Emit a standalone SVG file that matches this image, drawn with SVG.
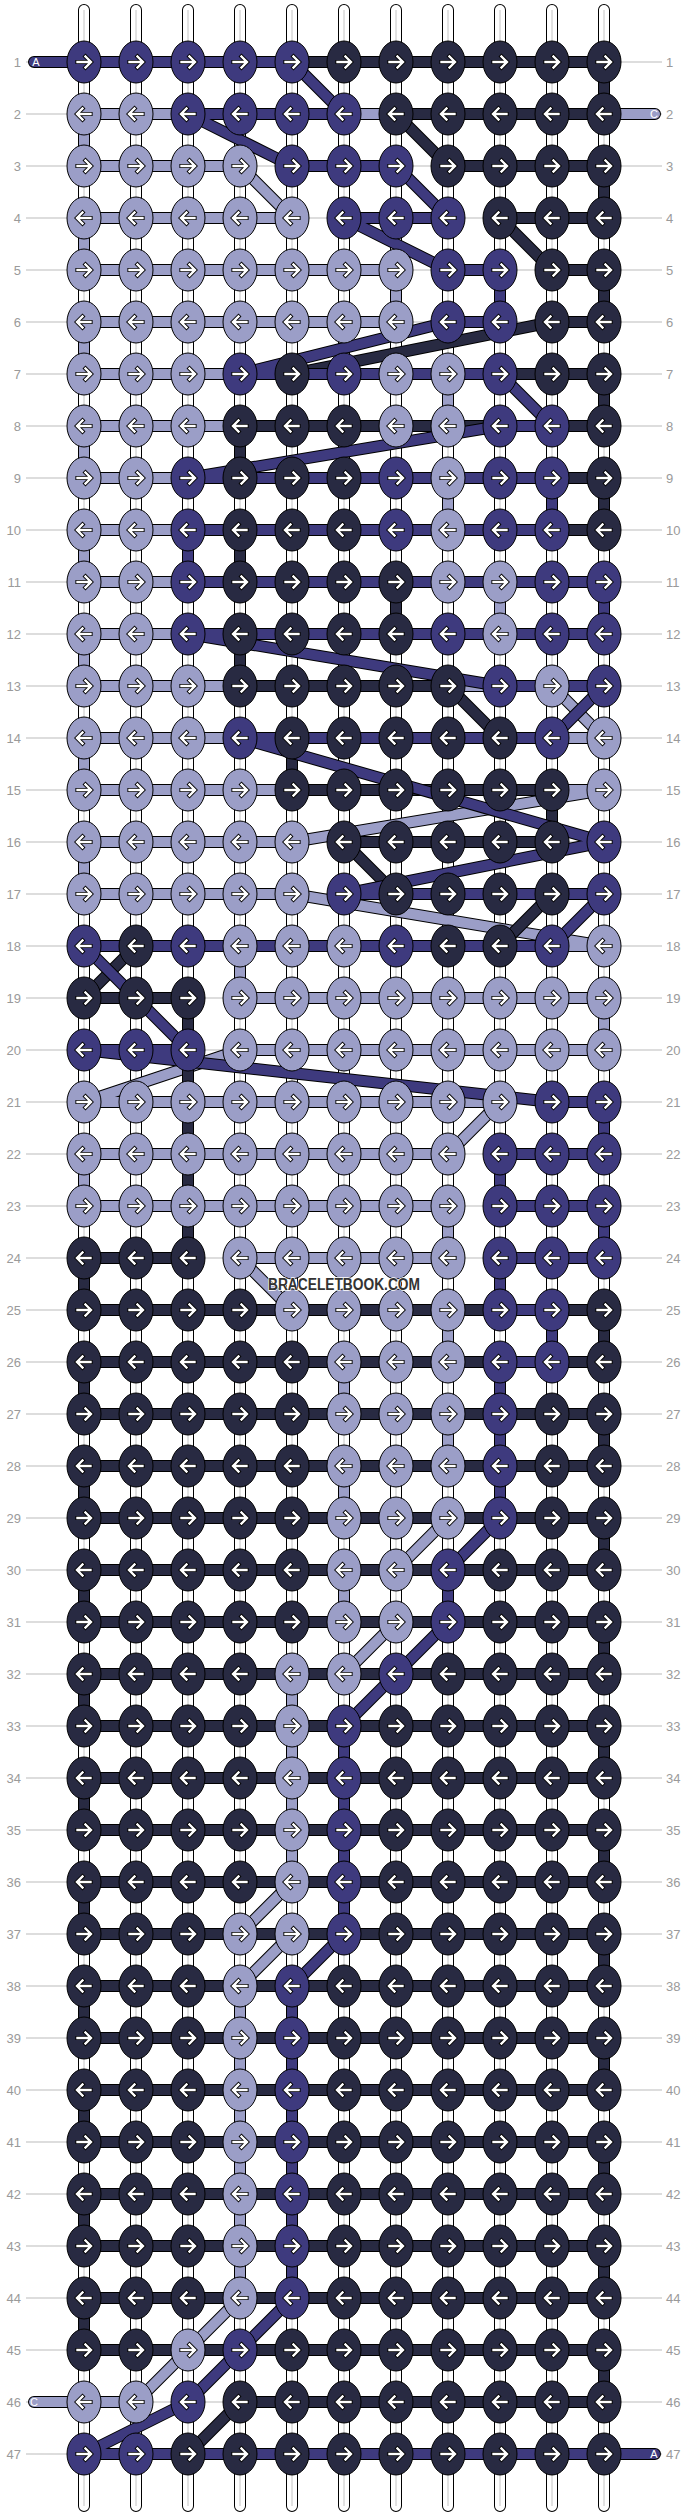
<svg xmlns="http://www.w3.org/2000/svg" width="688" height="2516" viewBox="0 0 688 2516">
<defs>
<style>
.L{fill:#9b9ec7}.M{fill:#3e3a7e}.D{fill:#282a42}
.lb{font-family:"Liberation Sans",Arial,sans-serif;font-size:13px;fill:#9a9a9a}
.tl{font-family:"Liberation Sans",Arial,sans-serif;font-size:11px;fill:#fff;text-anchor:middle}
</style>
<g id="R"><ellipse rx="17" ry="21" stroke="#000" stroke-width="1"/><path d="M-6.5,0H6M1.5-5.5L7,0 1.5,5.5" fill="none" stroke="#000" stroke-width="4.2" stroke-linecap="square"/><path d="M-6.5,0H6M1.5-5.5L7,0 1.5,5.5" fill="none" stroke="#fff" stroke-width="2.4" stroke-linecap="square"/></g>
<g id="W"><ellipse rx="17" ry="21" stroke="#000" stroke-width="1"/><path d="M6.5,0H-6M-1.5-5.5L-7,0-1.5,5.5" fill="none" stroke="#000" stroke-width="4.2" stroke-linecap="square"/><path d="M6.5,0H-6M-1.5-5.5L-7,0-1.5,5.5" fill="none" stroke="#fff" stroke-width="2.4" stroke-linecap="square"/></g>
<path id="tL" d="M655,114H84V166H240L292,218H84V270H396V322H84V374H448V426H84V478H448V530H84V582H500V634H84V686H552L604,738H84V790H604L292,842H84V894H292L604,946H240V998H604V1050H240L84,1102H500L448,1154H84V1206H448V1258H240L292,1310H448V1362H344V1414H448V1466H344V1518H448L396,1570H344V1622H396L344,1674H292V1882L240,1934H292L240,1986V2298L188,2350L136,2402H34"/>
<path id="tD" d="M292,62H604V114H396L448,166H604V218H500L552,270H604V322H552L292,374H604V426H240V478H604V530H240V582H396V634H240V686H448L500,738H292V790H552V842H344L396,894H552L500,946H136L84,998H188V1258H84V1310H604V1362H84V1414H604V1466H84V1518H604V1570H84V1622H604V1674H84V1726H604V1778H84V1830H604V1882H84V1934H604V1986H84V2038H604V2090H84V2142H604V2194H84V2246H604V2298H84V2350H604V2402H240L188,2454H604"/>
<path id="tM" d="M34,62H292L344,114H188L292,166H396L448,218H344L448,270H500V322H448L240,374H500L552,426H500L188,478H552V530H188V582H604V634H188L500,686H604L552,738H240L604,842L344,894H604L552,946H84L188,1050H84L552,1102H604V1154H500V1206H604V1258H500V1310H552V1362H500V1518L448,1570V1622L396,1674L344,1726V1934L292,1986V2298L240,2350L188,2402L84,2454H655"/>
<path id="wp" d="M84,10V2506M136,10V2506M188,10V2506M240,10V2506M292,10V2506M344,10V2506M396,10V2506M448,10V2506M500,10V2506M552,10V2506M604,10V2506"/>
</defs>
<rect width="688" height="2516" fill="#fff"/>
<g id="guides" stroke="#bbb" stroke-width="1" fill="none">
<path d="M26,62H662M26,114H662M26,166H662M26,218H662M26,270H662M26,322H662M26,374H662M26,426H662M26,478H662M26,530H662M26,582H662M26,634H662M26,686H662M26,738H662M26,790H662M26,842H662M26,894H662M26,946H662M26,998H662M26,1050H662M26,1102H662M26,1154H662M26,1206H662M26,1258H662M26,1310H662M26,1362H662M26,1414H662M26,1466H662M26,1518H662M26,1570H662M26,1622H662M26,1674H662M26,1726H662M26,1778H662M26,1830H662M26,1882H662M26,1934H662M26,1986H662M26,2038H662M26,2090H662M26,2142H662M26,2194H662M26,2246H662M26,2298H662M26,2350H662M26,2402H662M26,2454H662"/>
</g>
<g id="labels" class="lb">
<g text-anchor="end">
<text x="21" y="66.5">1</text><text x="21" y="118.5">2</text><text x="21" y="170.5">3</text><text x="21" y="222.5">4</text><text x="21" y="274.5">5</text><text x="21" y="326.5">6</text><text x="21" y="378.5">7</text><text x="21" y="430.5">8</text><text x="21" y="482.5">9</text><text x="21" y="534.5">10</text><text x="21" y="586.5">11</text><text x="21" y="638.5">12</text><text x="21" y="690.5">13</text><text x="21" y="742.5">14</text><text x="21" y="794.5">15</text><text x="21" y="846.5">16</text><text x="21" y="898.5">17</text><text x="21" y="950.5">18</text><text x="21" y="1002.5">19</text><text x="21" y="1054.5">20</text><text x="21" y="1106.5">21</text><text x="21" y="1158.5">22</text><text x="21" y="1210.5">23</text><text x="21" y="1262.5">24</text><text x="21" y="1314.5">25</text><text x="21" y="1366.5">26</text><text x="21" y="1418.5">27</text><text x="21" y="1470.5">28</text><text x="21" y="1522.5">29</text><text x="21" y="1574.5">30</text><text x="21" y="1626.5">31</text><text x="21" y="1678.5">32</text><text x="21" y="1730.5">33</text><text x="21" y="1782.5">34</text><text x="21" y="1834.5">35</text><text x="21" y="1886.5">36</text><text x="21" y="1938.5">37</text><text x="21" y="1990.5">38</text><text x="21" y="2042.5">39</text><text x="21" y="2094.5">40</text><text x="21" y="2146.5">41</text><text x="21" y="2198.5">42</text><text x="21" y="2250.5">43</text><text x="21" y="2302.5">44</text><text x="21" y="2354.5">45</text><text x="21" y="2406.5">46</text><text x="21" y="2458.5">47</text>
</g>
<g>
<text x="666" y="66.5">1</text><text x="666" y="118.5">2</text><text x="666" y="170.5">3</text><text x="666" y="222.5">4</text><text x="666" y="274.5">5</text><text x="666" y="326.5">6</text><text x="666" y="378.5">7</text><text x="666" y="430.5">8</text><text x="666" y="482.5">9</text><text x="666" y="534.5">10</text><text x="666" y="586.5">11</text><text x="666" y="638.5">12</text><text x="666" y="690.5">13</text><text x="666" y="742.5">14</text><text x="666" y="794.5">15</text><text x="666" y="846.5">16</text><text x="666" y="898.5">17</text><text x="666" y="950.5">18</text><text x="666" y="1002.5">19</text><text x="666" y="1054.5">20</text><text x="666" y="1106.5">21</text><text x="666" y="1158.5">22</text><text x="666" y="1210.5">23</text><text x="666" y="1262.5">24</text><text x="666" y="1314.5">25</text><text x="666" y="1366.5">26</text><text x="666" y="1418.5">27</text><text x="666" y="1470.5">28</text><text x="666" y="1522.5">29</text><text x="666" y="1574.5">30</text><text x="666" y="1626.5">31</text><text x="666" y="1678.5">32</text><text x="666" y="1730.5">33</text><text x="666" y="1782.5">34</text><text x="666" y="1834.5">35</text><text x="666" y="1886.5">36</text><text x="666" y="1938.5">37</text><text x="666" y="1990.5">38</text><text x="666" y="2042.5">39</text><text x="666" y="2094.5">40</text><text x="666" y="2146.5">41</text><text x="666" y="2198.5">42</text><text x="666" y="2250.5">43</text><text x="666" y="2302.5">44</text><text x="666" y="2354.5">45</text><text x="666" y="2406.5">46</text><text x="666" y="2458.5">47</text>
</g>
</g>
<g id="warp" fill="none">
<use href="#wp" stroke="#000" stroke-width="12" stroke-linecap="round"/>
<use href="#wp" stroke="#fff" stroke-width="10" stroke-linecap="round"/>
<use href="#wp" stroke="#c4c4c4" stroke-width="1"/>
</g>
<g id="connectors" fill="none" stroke-linecap="round" stroke-linejoin="round">
<use href="#tL" stroke="#000" stroke-width="12"/>
<use href="#tL" stroke="#9b9ec7" stroke-width="10"/>
<use href="#tD" stroke="#000" stroke-width="12"/>
<use href="#tD" stroke="#282a42" stroke-width="10"/>
<use href="#tM" stroke="#000" stroke-width="12"/>
<use href="#tM" stroke="#3e3a7e" stroke-width="10"/>
</g>
<g id="tails" class="tl">
<text x="36" y="66">A</text><text x="654" y="118">C</text><text x="34" y="2406">C</text><text x="654" y="2458">A</text>
</g>
<g id="knots">
<g id="r1" transform="translate(0,62)"><use href="#R" class="M" x="84"/><use href="#R" class="M" x="136"/><use href="#R" class="M" x="188"/><use href="#R" class="M" x="240"/><use href="#R" class="M" x="292"/><use href="#R" class="D" x="344"/><use href="#R" class="D" x="396"/><use href="#R" class="D" x="448"/><use href="#R" class="D" x="500"/><use href="#R" class="D" x="552"/><use href="#R" class="D" x="604"/></g>
<g id="r2" transform="translate(0,114)"><use href="#W" class="L" x="84"/><use href="#W" class="L" x="136"/><use href="#W" class="M" x="188"/><use href="#W" class="M" x="240"/><use href="#W" class="M" x="292"/><use href="#W" class="M" x="344"/><use href="#W" class="D" x="396"/><use href="#W" class="D" x="448"/><use href="#W" class="D" x="500"/><use href="#W" class="D" x="552"/><use href="#W" class="D" x="604"/></g>
<g id="r3" transform="translate(0,166)"><use href="#R" class="L" x="84"/><use href="#R" class="L" x="136"/><use href="#R" class="L" x="188"/><use href="#R" class="L" x="240"/><use href="#R" class="M" x="292"/><use href="#R" class="M" x="344"/><use href="#R" class="M" x="396"/><use href="#R" class="D" x="448"/><use href="#R" class="D" x="500"/><use href="#R" class="D" x="552"/><use href="#R" class="D" x="604"/></g>
<g id="r4" transform="translate(0,218)"><use href="#W" class="L" x="84"/><use href="#W" class="L" x="136"/><use href="#W" class="L" x="188"/><use href="#W" class="L" x="240"/><use href="#W" class="L" x="292"/><use href="#W" class="M" x="344"/><use href="#W" class="M" x="396"/><use href="#W" class="M" x="448"/><use href="#W" class="D" x="500"/><use href="#W" class="D" x="552"/><use href="#W" class="D" x="604"/></g>
<g id="r5" transform="translate(0,270)"><use href="#R" class="L" x="84"/><use href="#R" class="L" x="136"/><use href="#R" class="L" x="188"/><use href="#R" class="L" x="240"/><use href="#R" class="L" x="292"/><use href="#R" class="L" x="344"/><use href="#R" class="L" x="396"/><use href="#R" class="M" x="448"/><use href="#R" class="M" x="500"/><use href="#R" class="D" x="552"/><use href="#R" class="D" x="604"/></g>
<g id="r6" transform="translate(0,322)"><use href="#W" class="L" x="84"/><use href="#W" class="L" x="136"/><use href="#W" class="L" x="188"/><use href="#W" class="L" x="240"/><use href="#W" class="L" x="292"/><use href="#W" class="L" x="344"/><use href="#W" class="L" x="396"/><use href="#W" class="M" x="448"/><use href="#W" class="M" x="500"/><use href="#W" class="D" x="552"/><use href="#W" class="D" x="604"/></g>
<g id="r7" transform="translate(0,374)"><use href="#R" class="L" x="84"/><use href="#R" class="L" x="136"/><use href="#R" class="L" x="188"/><use href="#R" class="M" x="240"/><use href="#R" class="D" x="292"/><use href="#R" class="M" x="344"/><use href="#R" class="L" x="396"/><use href="#R" class="L" x="448"/><use href="#R" class="M" x="500"/><use href="#R" class="D" x="552"/><use href="#R" class="D" x="604"/></g>
<g id="r8" transform="translate(0,426)"><use href="#W" class="L" x="84"/><use href="#W" class="L" x="136"/><use href="#W" class="L" x="188"/><use href="#W" class="D" x="240"/><use href="#W" class="D" x="292"/><use href="#W" class="D" x="344"/><use href="#W" class="L" x="396"/><use href="#W" class="L" x="448"/><use href="#W" class="M" x="500"/><use href="#W" class="M" x="552"/><use href="#W" class="D" x="604"/></g>
<g id="r9" transform="translate(0,478)"><use href="#R" class="L" x="84"/><use href="#R" class="L" x="136"/><use href="#R" class="M" x="188"/><use href="#R" class="D" x="240"/><use href="#R" class="D" x="292"/><use href="#R" class="D" x="344"/><use href="#R" class="M" x="396"/><use href="#R" class="L" x="448"/><use href="#R" class="M" x="500"/><use href="#R" class="M" x="552"/><use href="#R" class="D" x="604"/></g>
<g id="r10" transform="translate(0,530)"><use href="#W" class="L" x="84"/><use href="#W" class="L" x="136"/><use href="#W" class="M" x="188"/><use href="#W" class="D" x="240"/><use href="#W" class="D" x="292"/><use href="#W" class="D" x="344"/><use href="#W" class="M" x="396"/><use href="#W" class="L" x="448"/><use href="#W" class="M" x="500"/><use href="#W" class="M" x="552"/><use href="#W" class="D" x="604"/></g>
<g id="r11" transform="translate(0,582)"><use href="#R" class="L" x="84"/><use href="#R" class="L" x="136"/><use href="#R" class="M" x="188"/><use href="#R" class="D" x="240"/><use href="#R" class="D" x="292"/><use href="#R" class="D" x="344"/><use href="#R" class="D" x="396"/><use href="#R" class="L" x="448"/><use href="#R" class="L" x="500"/><use href="#R" class="M" x="552"/><use href="#R" class="M" x="604"/></g>
<g id="r12" transform="translate(0,634)"><use href="#W" class="L" x="84"/><use href="#W" class="L" x="136"/><use href="#W" class="M" x="188"/><use href="#W" class="D" x="240"/><use href="#W" class="D" x="292"/><use href="#W" class="D" x="344"/><use href="#W" class="D" x="396"/><use href="#W" class="M" x="448"/><use href="#W" class="L" x="500"/><use href="#W" class="M" x="552"/><use href="#W" class="M" x="604"/></g>
<g id="r13" transform="translate(0,686)"><use href="#R" class="L" x="84"/><use href="#R" class="L" x="136"/><use href="#R" class="L" x="188"/><use href="#R" class="D" x="240"/><use href="#R" class="D" x="292"/><use href="#R" class="D" x="344"/><use href="#R" class="D" x="396"/><use href="#R" class="D" x="448"/><use href="#R" class="M" x="500"/><use href="#R" class="L" x="552"/><use href="#R" class="M" x="604"/></g>
<g id="r14" transform="translate(0,738)"><use href="#W" class="L" x="84"/><use href="#W" class="L" x="136"/><use href="#W" class="L" x="188"/><use href="#W" class="M" x="240"/><use href="#W" class="D" x="292"/><use href="#W" class="D" x="344"/><use href="#W" class="D" x="396"/><use href="#W" class="D" x="448"/><use href="#W" class="D" x="500"/><use href="#W" class="M" x="552"/><use href="#W" class="L" x="604"/></g>
<g id="r15" transform="translate(0,790)"><use href="#R" class="L" x="84"/><use href="#R" class="L" x="136"/><use href="#R" class="L" x="188"/><use href="#R" class="L" x="240"/><use href="#R" class="D" x="292"/><use href="#R" class="D" x="344"/><use href="#R" class="D" x="396"/><use href="#R" class="D" x="448"/><use href="#R" class="D" x="500"/><use href="#R" class="D" x="552"/><use href="#R" class="L" x="604"/></g>
<g id="r16" transform="translate(0,842)"><use href="#W" class="L" x="84"/><use href="#W" class="L" x="136"/><use href="#W" class="L" x="188"/><use href="#W" class="L" x="240"/><use href="#W" class="L" x="292"/><use href="#W" class="D" x="344"/><use href="#W" class="D" x="396"/><use href="#W" class="D" x="448"/><use href="#W" class="D" x="500"/><use href="#W" class="D" x="552"/><use href="#W" class="M" x="604"/></g>
<g id="r17" transform="translate(0,894)"><use href="#R" class="L" x="84"/><use href="#R" class="L" x="136"/><use href="#R" class="L" x="188"/><use href="#R" class="L" x="240"/><use href="#R" class="L" x="292"/><use href="#R" class="M" x="344"/><use href="#R" class="D" x="396"/><use href="#R" class="D" x="448"/><use href="#R" class="D" x="500"/><use href="#R" class="D" x="552"/><use href="#R" class="M" x="604"/></g>
<g id="r18" transform="translate(0,946)"><use href="#W" class="M" x="84"/><use href="#W" class="D" x="136"/><use href="#W" class="M" x="188"/><use href="#W" class="L" x="240"/><use href="#W" class="L" x="292"/><use href="#W" class="L" x="344"/><use href="#W" class="M" x="396"/><use href="#W" class="D" x="448"/><use href="#W" class="D" x="500"/><use href="#W" class="M" x="552"/><use href="#W" class="L" x="604"/></g>
<g id="r19" transform="translate(0,998)"><use href="#R" class="D" x="84"/><use href="#R" class="D" x="136"/><use href="#R" class="D" x="188"/><use href="#R" class="L" x="240"/><use href="#R" class="L" x="292"/><use href="#R" class="L" x="344"/><use href="#R" class="L" x="396"/><use href="#R" class="L" x="448"/><use href="#R" class="L" x="500"/><use href="#R" class="L" x="552"/><use href="#R" class="L" x="604"/></g>
<g id="r20" transform="translate(0,1050)"><use href="#W" class="M" x="84"/><use href="#W" class="M" x="136"/><use href="#W" class="M" x="188"/><use href="#W" class="L" x="240"/><use href="#W" class="L" x="292"/><use href="#W" class="L" x="344"/><use href="#W" class="L" x="396"/><use href="#W" class="L" x="448"/><use href="#W" class="L" x="500"/><use href="#W" class="L" x="552"/><use href="#W" class="L" x="604"/></g>
<g id="r21" transform="translate(0,1102)"><use href="#R" class="L" x="84"/><use href="#R" class="L" x="136"/><use href="#R" class="L" x="188"/><use href="#R" class="L" x="240"/><use href="#R" class="L" x="292"/><use href="#R" class="L" x="344"/><use href="#R" class="L" x="396"/><use href="#R" class="L" x="448"/><use href="#R" class="L" x="500"/><use href="#R" class="M" x="552"/><use href="#R" class="M" x="604"/></g>
<g id="r22" transform="translate(0,1154)"><use href="#W" class="L" x="84"/><use href="#W" class="L" x="136"/><use href="#W" class="L" x="188"/><use href="#W" class="L" x="240"/><use href="#W" class="L" x="292"/><use href="#W" class="L" x="344"/><use href="#W" class="L" x="396"/><use href="#W" class="L" x="448"/><use href="#W" class="M" x="500"/><use href="#W" class="M" x="552"/><use href="#W" class="M" x="604"/></g>
<g id="r23" transform="translate(0,1206)"><use href="#R" class="L" x="84"/><use href="#R" class="L" x="136"/><use href="#R" class="L" x="188"/><use href="#R" class="L" x="240"/><use href="#R" class="L" x="292"/><use href="#R" class="L" x="344"/><use href="#R" class="L" x="396"/><use href="#R" class="L" x="448"/><use href="#R" class="M" x="500"/><use href="#R" class="M" x="552"/><use href="#R" class="M" x="604"/></g>
<g id="r24" transform="translate(0,1258)"><use href="#W" class="D" x="84"/><use href="#W" class="D" x="136"/><use href="#W" class="D" x="188"/><use href="#W" class="L" x="240"/><use href="#W" class="L" x="292"/><use href="#W" class="L" x="344"/><use href="#W" class="L" x="396"/><use href="#W" class="L" x="448"/><use href="#W" class="M" x="500"/><use href="#W" class="M" x="552"/><use href="#W" class="M" x="604"/></g>
<g id="r25" transform="translate(0,1310)"><use href="#R" class="D" x="84"/><use href="#R" class="D" x="136"/><use href="#R" class="D" x="188"/><use href="#R" class="D" x="240"/><use href="#R" class="L" x="292"/><use href="#R" class="L" x="344"/><use href="#R" class="L" x="396"/><use href="#R" class="L" x="448"/><use href="#R" class="M" x="500"/><use href="#R" class="M" x="552"/><use href="#R" class="D" x="604"/></g>
<g id="r26" transform="translate(0,1362)"><use href="#W" class="D" x="84"/><use href="#W" class="D" x="136"/><use href="#W" class="D" x="188"/><use href="#W" class="D" x="240"/><use href="#W" class="D" x="292"/><use href="#W" class="L" x="344"/><use href="#W" class="L" x="396"/><use href="#W" class="L" x="448"/><use href="#W" class="M" x="500"/><use href="#W" class="M" x="552"/><use href="#W" class="D" x="604"/></g>
<g id="r27" transform="translate(0,1414)"><use href="#R" class="D" x="84"/><use href="#R" class="D" x="136"/><use href="#R" class="D" x="188"/><use href="#R" class="D" x="240"/><use href="#R" class="D" x="292"/><use href="#R" class="L" x="344"/><use href="#R" class="L" x="396"/><use href="#R" class="L" x="448"/><use href="#R" class="M" x="500"/><use href="#R" class="D" x="552"/><use href="#R" class="D" x="604"/></g>
<g id="r28" transform="translate(0,1466)"><use href="#W" class="D" x="84"/><use href="#W" class="D" x="136"/><use href="#W" class="D" x="188"/><use href="#W" class="D" x="240"/><use href="#W" class="D" x="292"/><use href="#W" class="L" x="344"/><use href="#W" class="L" x="396"/><use href="#W" class="L" x="448"/><use href="#W" class="M" x="500"/><use href="#W" class="D" x="552"/><use href="#W" class="D" x="604"/></g>
<g id="r29" transform="translate(0,1518)"><use href="#R" class="D" x="84"/><use href="#R" class="D" x="136"/><use href="#R" class="D" x="188"/><use href="#R" class="D" x="240"/><use href="#R" class="D" x="292"/><use href="#R" class="L" x="344"/><use href="#R" class="L" x="396"/><use href="#R" class="L" x="448"/><use href="#R" class="M" x="500"/><use href="#R" class="D" x="552"/><use href="#R" class="D" x="604"/></g>
<g id="r30" transform="translate(0,1570)"><use href="#W" class="D" x="84"/><use href="#W" class="D" x="136"/><use href="#W" class="D" x="188"/><use href="#W" class="D" x="240"/><use href="#W" class="D" x="292"/><use href="#W" class="L" x="344"/><use href="#W" class="L" x="396"/><use href="#W" class="M" x="448"/><use href="#W" class="D" x="500"/><use href="#W" class="D" x="552"/><use href="#W" class="D" x="604"/></g>
<g id="r31" transform="translate(0,1622)"><use href="#R" class="D" x="84"/><use href="#R" class="D" x="136"/><use href="#R" class="D" x="188"/><use href="#R" class="D" x="240"/><use href="#R" class="D" x="292"/><use href="#R" class="L" x="344"/><use href="#R" class="L" x="396"/><use href="#R" class="M" x="448"/><use href="#R" class="D" x="500"/><use href="#R" class="D" x="552"/><use href="#R" class="D" x="604"/></g>
<g id="r32" transform="translate(0,1674)"><use href="#W" class="D" x="84"/><use href="#W" class="D" x="136"/><use href="#W" class="D" x="188"/><use href="#W" class="D" x="240"/><use href="#W" class="L" x="292"/><use href="#W" class="L" x="344"/><use href="#W" class="M" x="396"/><use href="#W" class="D" x="448"/><use href="#W" class="D" x="500"/><use href="#W" class="D" x="552"/><use href="#W" class="D" x="604"/></g>
<g id="r33" transform="translate(0,1726)"><use href="#R" class="D" x="84"/><use href="#R" class="D" x="136"/><use href="#R" class="D" x="188"/><use href="#R" class="D" x="240"/><use href="#R" class="L" x="292"/><use href="#R" class="M" x="344"/><use href="#R" class="D" x="396"/><use href="#R" class="D" x="448"/><use href="#R" class="D" x="500"/><use href="#R" class="D" x="552"/><use href="#R" class="D" x="604"/></g>
<g id="r34" transform="translate(0,1778)"><use href="#W" class="D" x="84"/><use href="#W" class="D" x="136"/><use href="#W" class="D" x="188"/><use href="#W" class="D" x="240"/><use href="#W" class="L" x="292"/><use href="#W" class="M" x="344"/><use href="#W" class="D" x="396"/><use href="#W" class="D" x="448"/><use href="#W" class="D" x="500"/><use href="#W" class="D" x="552"/><use href="#W" class="D" x="604"/></g>
<g id="r35" transform="translate(0,1830)"><use href="#R" class="D" x="84"/><use href="#R" class="D" x="136"/><use href="#R" class="D" x="188"/><use href="#R" class="D" x="240"/><use href="#R" class="L" x="292"/><use href="#R" class="M" x="344"/><use href="#R" class="D" x="396"/><use href="#R" class="D" x="448"/><use href="#R" class="D" x="500"/><use href="#R" class="D" x="552"/><use href="#R" class="D" x="604"/></g>
<g id="r36" transform="translate(0,1882)"><use href="#W" class="D" x="84"/><use href="#W" class="D" x="136"/><use href="#W" class="D" x="188"/><use href="#W" class="D" x="240"/><use href="#W" class="L" x="292"/><use href="#W" class="M" x="344"/><use href="#W" class="D" x="396"/><use href="#W" class="D" x="448"/><use href="#W" class="D" x="500"/><use href="#W" class="D" x="552"/><use href="#W" class="D" x="604"/></g>
<g id="r37" transform="translate(0,1934)"><use href="#R" class="D" x="84"/><use href="#R" class="D" x="136"/><use href="#R" class="D" x="188"/><use href="#R" class="L" x="240"/><use href="#R" class="L" x="292"/><use href="#R" class="M" x="344"/><use href="#R" class="D" x="396"/><use href="#R" class="D" x="448"/><use href="#R" class="D" x="500"/><use href="#R" class="D" x="552"/><use href="#R" class="D" x="604"/></g>
<g id="r38" transform="translate(0,1986)"><use href="#W" class="D" x="84"/><use href="#W" class="D" x="136"/><use href="#W" class="D" x="188"/><use href="#W" class="L" x="240"/><use href="#W" class="M" x="292"/><use href="#W" class="D" x="344"/><use href="#W" class="D" x="396"/><use href="#W" class="D" x="448"/><use href="#W" class="D" x="500"/><use href="#W" class="D" x="552"/><use href="#W" class="D" x="604"/></g>
<g id="r39" transform="translate(0,2038)"><use href="#R" class="D" x="84"/><use href="#R" class="D" x="136"/><use href="#R" class="D" x="188"/><use href="#R" class="L" x="240"/><use href="#R" class="M" x="292"/><use href="#R" class="D" x="344"/><use href="#R" class="D" x="396"/><use href="#R" class="D" x="448"/><use href="#R" class="D" x="500"/><use href="#R" class="D" x="552"/><use href="#R" class="D" x="604"/></g>
<g id="r40" transform="translate(0,2090)"><use href="#W" class="D" x="84"/><use href="#W" class="D" x="136"/><use href="#W" class="D" x="188"/><use href="#W" class="L" x="240"/><use href="#W" class="M" x="292"/><use href="#W" class="D" x="344"/><use href="#W" class="D" x="396"/><use href="#W" class="D" x="448"/><use href="#W" class="D" x="500"/><use href="#W" class="D" x="552"/><use href="#W" class="D" x="604"/></g>
<g id="r41" transform="translate(0,2142)"><use href="#R" class="D" x="84"/><use href="#R" class="D" x="136"/><use href="#R" class="D" x="188"/><use href="#R" class="L" x="240"/><use href="#R" class="M" x="292"/><use href="#R" class="D" x="344"/><use href="#R" class="D" x="396"/><use href="#R" class="D" x="448"/><use href="#R" class="D" x="500"/><use href="#R" class="D" x="552"/><use href="#R" class="D" x="604"/></g>
<g id="r42" transform="translate(0,2194)"><use href="#W" class="D" x="84"/><use href="#W" class="D" x="136"/><use href="#W" class="D" x="188"/><use href="#W" class="L" x="240"/><use href="#W" class="M" x="292"/><use href="#W" class="D" x="344"/><use href="#W" class="D" x="396"/><use href="#W" class="D" x="448"/><use href="#W" class="D" x="500"/><use href="#W" class="D" x="552"/><use href="#W" class="D" x="604"/></g>
<g id="r43" transform="translate(0,2246)"><use href="#R" class="D" x="84"/><use href="#R" class="D" x="136"/><use href="#R" class="D" x="188"/><use href="#R" class="L" x="240"/><use href="#R" class="M" x="292"/><use href="#R" class="D" x="344"/><use href="#R" class="D" x="396"/><use href="#R" class="D" x="448"/><use href="#R" class="D" x="500"/><use href="#R" class="D" x="552"/><use href="#R" class="D" x="604"/></g>
<g id="r44" transform="translate(0,2298)"><use href="#W" class="D" x="84"/><use href="#W" class="D" x="136"/><use href="#W" class="D" x="188"/><use href="#W" class="L" x="240"/><use href="#W" class="M" x="292"/><use href="#W" class="D" x="344"/><use href="#W" class="D" x="396"/><use href="#W" class="D" x="448"/><use href="#W" class="D" x="500"/><use href="#W" class="D" x="552"/><use href="#W" class="D" x="604"/></g>
<g id="r45" transform="translate(0,2350)"><use href="#R" class="D" x="84"/><use href="#R" class="D" x="136"/><use href="#R" class="L" x="188"/><use href="#R" class="M" x="240"/><use href="#R" class="D" x="292"/><use href="#R" class="D" x="344"/><use href="#R" class="D" x="396"/><use href="#R" class="D" x="448"/><use href="#R" class="D" x="500"/><use href="#R" class="D" x="552"/><use href="#R" class="D" x="604"/></g>
<g id="r46" transform="translate(0,2402)"><use href="#W" class="L" x="84"/><use href="#W" class="L" x="136"/><use href="#W" class="M" x="188"/><use href="#W" class="D" x="240"/><use href="#W" class="D" x="292"/><use href="#W" class="D" x="344"/><use href="#W" class="D" x="396"/><use href="#W" class="D" x="448"/><use href="#W" class="D" x="500"/><use href="#W" class="D" x="552"/><use href="#W" class="D" x="604"/></g>
<g id="r47" transform="translate(0,2454)"><use href="#R" class="M" x="84"/><use href="#R" class="M" x="136"/><use href="#R" class="D" x="188"/><use href="#R" class="D" x="240"/><use href="#R" class="D" x="292"/><use href="#R" class="D" x="344"/><use href="#R" class="D" x="396"/><use href="#R" class="D" x="448"/><use href="#R" class="D" x="500"/><use href="#R" class="D" x="552"/><use href="#R" class="D" x="604"/></g>
</g>
<text id="watermark" x="344" y="1290" font-family="Liberation Sans, Arial, sans-serif" font-weight="bold" font-size="16" text-anchor="middle" textLength="152" lengthAdjust="spacingAndGlyphs" fill="#333" stroke="#fff" stroke-width="1.5" paint-order="stroke">BRACELETBOOK.COM</text>
</svg>
